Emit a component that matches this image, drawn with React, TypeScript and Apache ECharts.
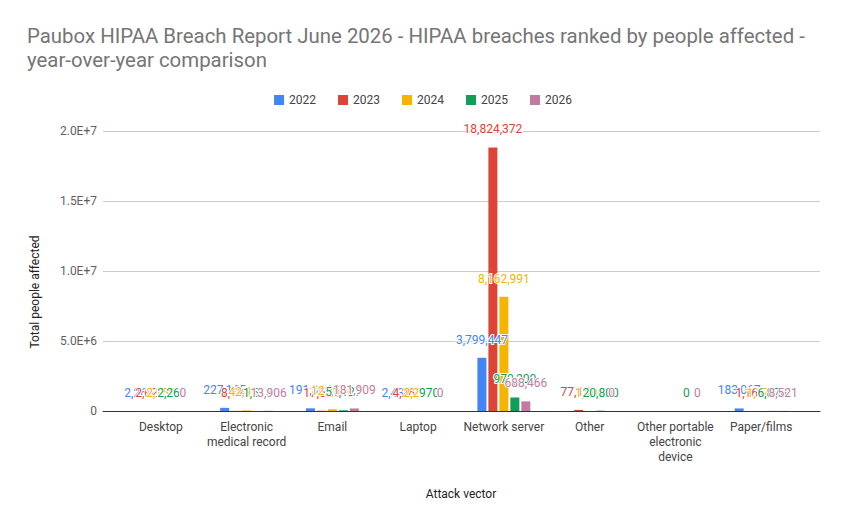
import React, { useEffect, useRef } from "react";
import * as echarts from "echarts";

const categories = [
  "Desktop",
  "Electronic\nmedical record",
  "Email",
  "Laptop",
  "Network server",
  "Other",
  "Other portable\nelectronic\ndevice",
  "Paper/films",
];
const years = ["2022", "2023", "2024", "2025", "2026"];
const y2022 = [2260, 227165, 191364, 2433, 3799447, null, null, 183067];
const y2023 = [2620, 8425, 17528, 4265, 18824372, 77150, null, 1161];
const y2024 = [2150, 42951, 122510, 2297, 8162991, 1906, null, 1176];
const y2025 = [2260, 1513, 51127, 970, 970200, 20800, 0, 6870];
const y2026 = [0, 13906, 181909, 0, 688466, 0, 0, 8521];
const colors = ["#4285F4", "#DB4437", "#F4B400", "#0F9D58", "#C27BA0"];
const yTicks = { min: 0, max: 20000000, interval: 5000000 };

export default function App() {
  const ref = useRef<HTMLDivElement>(null);
  useEffect(() => {
    if (!ref.current) return;
    const chart = echarts.init(ref.current, null, { renderer: "svg" });
    const seriesData = [y2022, y2023, y2024, y2025, y2026];
    const font = "Roboto, Arial, sans-serif";
    chart.setOption({
      animation: false,
      color: colors,
      textStyle: { fontFamily: font },
      title: {
        text:
          "Paubox HIPAA Breach Report June 2026 - HIPAA breaches ranked by people affected -\nyear-over-year comparison",
        left: 27,
        top: 24,
        padding: 0,
        textStyle: {
          fontFamily: font,
          fontSize: 20.4,
          fontWeight: "normal",
          color: "#757575",
          lineHeight: 24,
        },
      },
      legend: {
        top: 89,
        left: "center",
        icon: "rect",
        itemWidth: 10,
        itemHeight: 10,
        itemGap: 22,
        textStyle: { fontFamily: font, fontSize: 12, color: "#444" },
        data: years,
      },
      grid: [
        { left: 103, right: 26, top: 131, bottom: 111 },
        { left: 118, right: 42, top: 131, bottom: 111 },
      ],
      xAxis: [
        {
          gridIndex: 0,
          type: "category",
          data: [""],
          axisLine: { show: true, lineStyle: { color: "#333", width: 1 } },
          axisTick: { show: false },
          axisLabel: { show: false },
        },
        {
          gridIndex: 1,
          type: "category",
          data: categories,
          axisLine: { show: false },
          axisTick: { show: false },
          axisLabel: {
            margin: 8,
            fontFamily: font,
            fontSize: 12,
            color: "#444",
            lineHeight: 15,
            interval: 0,
          },
          name: "Attack vector",
          nameLocation: "middle",
          nameGap: 77,
          nameTextStyle: { fontFamily: font, fontSize: 12, color: "#222" },
        },
      ],
      yAxis: [
        {
          gridIndex: 0,
          type: "value",
          ...yTicks,
          axisLine: { show: false },
          axisTick: { show: false },
          splitLine: { lineStyle: { color: "#cccccc" } },
          axisLabel: {
            margin: 6,
            fontFamily: font,
            fontSize: 12,
            color: "#5f5f5f",
            formatter: (v: number) =>
              v === 0 ? "0" : v.toExponential(1).toUpperCase(),
          },
        },
        {
          gridIndex: 1,
          type: "value",
          ...yTicks,
          show: false,
          splitLine: { show: false },
        },
      ],
      graphic: [
        {
          type: "text",
          x: 35,
          y: 292,
          rotation: Math.PI / 2,
          style: {
            text: "Total people affected",
            fontFamily: font,
            fontSize: 12,
            fill: "#222",
            textAlign: "center",
            textVerticalAlign: "middle",
          },
        },
      ],
      series: years.map((y, i) => ({
        name: y,
        type: "bar",
        xAxisIndex: 1,
        yAxisIndex: 1,
        barWidth: 9,
        barGap: "22%",
        data: seriesData[i],
        itemStyle: { color: colors[i] },
        label: {
          show: true,
          position: "top",
          distance: 12,
          fontFamily: font,
          fontSize: 12,
          color: colors[i],
          textBorderColor: "#fff",
          textBorderWidth: 2,
          formatter: (p: any) =>
            p.value == null ? "" : Number(p.value).toLocaleString("en-US"),
        },
        labelLayout: { hideOverlap: false },
      })),
    });
    return () => chart.dispose();
  }, []);
  return (
    <div
      ref={ref}
      style={{ position: "fixed", left: 0, top: 0, width: 846, height: 522, background: "#fff" }}
    />
  );
}
